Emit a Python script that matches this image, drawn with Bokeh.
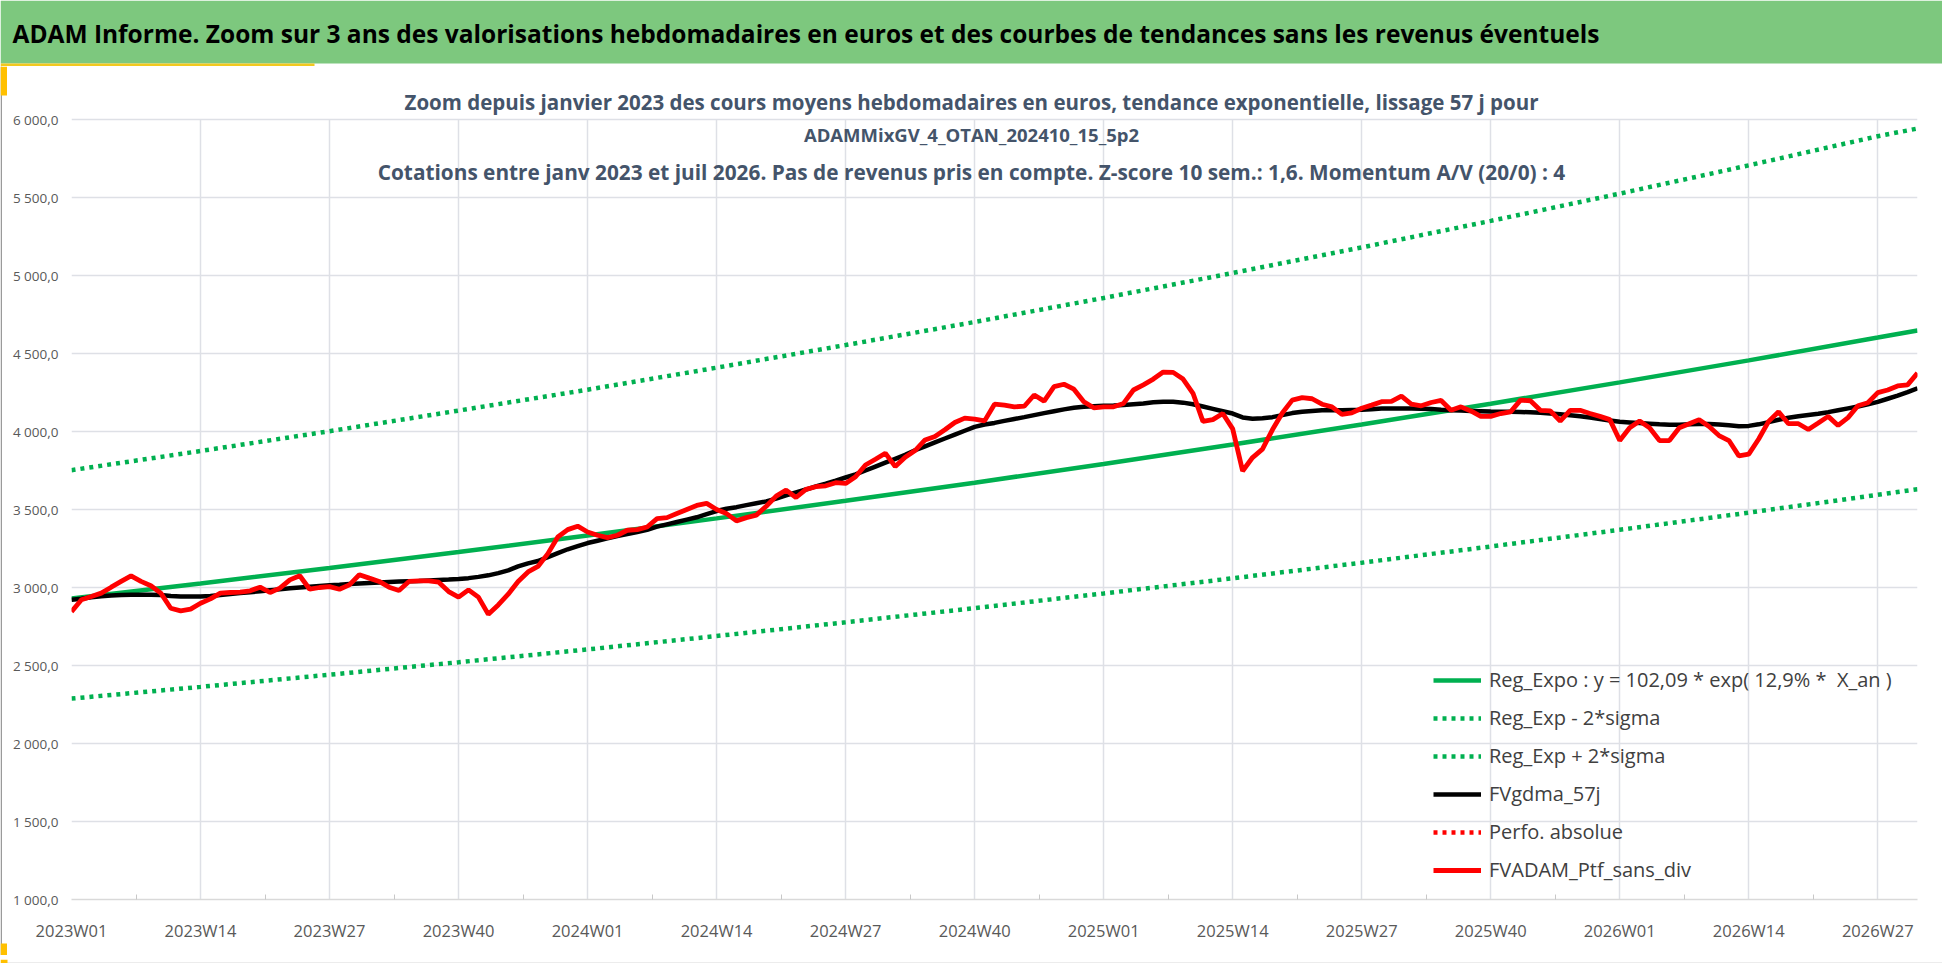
from bokeh.plotting import figure
from bokeh.layouts import column, row
from bokeh.models import Range1d, FixedTicker, Legend, LegendItem, Label
from bokeh.core.properties import value
from bokeh.embed import file_html
from bokeh.resources import INLINE

# weekly categories, 2023W01 .. 2026W31
weeks = ([f"{y}W{w:02d}" for y in (2023, 2024, 2025) for w in range(1, 53)]
         + [f"2026W{w:02d}" for w in range(1, 32)])

x_tick_labels = ["2023W01", "2023W14", "2023W27", "2023W40",
                 "2024W01", "2024W14", "2024W27", "2024W40",
                 "2025W01", "2025W14", "2025W27", "2025W40",
                 "2026W01", "2026W14", "2026W27"]
y_ticks = [1000, 1500, 2000, 2500, 3000, 3500, 4000, 4500, 5000, 5500, 6000]
y_tick_labels = ["1 000,0", "1 500,0", "2 000,0", "2 500,0", "3 000,0", "3 500,0",
                 "4 000,0", "4 500,0", "5 000,0", "5 500,0", "6 000,0"]

# FVADAM_Ptf_sans_div (red)
fvadam = [
    2845, 2921, 2942, 2964, 3002, 3039, 3075, 3039, 3011, 2964,
    2867, 2850, 2861, 2899, 2927, 2964, 2968, 2970, 2979, 3002,
    2968, 2996, 3049, 3075, 2989, 3000, 3006, 2989, 3017, 3082,
    3060, 3039, 3002, 2981, 3039, 3043, 3043, 3034, 2974, 2938,
    2985, 2938, 2828, 2888, 2957, 3039, 3100, 3135, 3217, 3324,
    3371, 3393, 3356, 3335, 3320, 3335, 3367, 3371, 3388, 3442,
    3448, 3474, 3500, 3526, 3539, 3500, 3474, 3427, 3448, 3464,
    3521, 3586, 3624, 3577, 3629, 3646, 3652, 3672, 3667, 3710,
    3785, 3822, 3861, 3775, 3835, 3878, 3946, 3968, 4011, 4058,
    4086, 4080, 4068, 4175, 4169, 4158, 4162, 4234, 4195, 4288,
    4303, 4271, 4191, 4152, 4158, 4158, 4180, 4266, 4299, 4336,
    4381, 4379, 4336, 4245, 4065, 4076, 4115, 4017, 3747, 3833,
    3887, 4011, 4119, 4201, 4217, 4210, 4175, 4158, 4110, 4119,
    4149, 4169, 4191, 4193, 4227, 4175, 4165, 4186, 4199, 4136,
    4158, 4132, 4097, 4097, 4115, 4126, 4201, 4197, 4136, 4132,
    4067, 4136, 4136, 4115, 4097, 4076, 3942, 4024, 4067, 4024,
    3942, 3942, 4024, 4050, 4076, 4032, 3974, 3942, 3844, 3855,
    3952, 4065, 4126, 4050, 4050, 4013, 4054, 4097, 4039, 4089,
    4165, 4184, 4249, 4266, 4292, 4299, 4375,
]

# FVgdma_57j (black, smoothed)
fvgdma = [
    2921, 2928, 2938, 2944, 2948, 2952, 2953, 2953, 2953, 2952,
    2945, 2942, 2942, 2943, 2946, 2952, 2958, 2964, 2970, 2976,
    2982, 2988, 2995, 3000, 3005, 3010, 3015, 3018, 3022, 3026,
    3029, 3032, 3035, 3038, 3040, 3042, 3045, 3048, 3051, 3055,
    3060, 3068, 3078, 3092, 3110, 3135, 3155, 3170, 3195, 3220,
    3245, 3265, 3285, 3300, 3315, 3330, 3342, 3356, 3370, 3390,
    3405, 3420, 3435, 3450, 3470, 3490, 3505, 3515, 3528, 3540,
    3552, 3570, 3590, 3610, 3628, 3648, 3666, 3685, 3705, 3725,
    3750, 3775, 3800, 3825, 3850, 3880, 3905, 3930, 3955, 3980,
    4005, 4030, 4045, 4055, 4068, 4080, 4092, 4105, 4118, 4130,
    4142, 4152, 4158, 4162, 4165, 4167, 4170, 4175, 4180, 4187,
    4191, 4190, 4185, 4175, 4160, 4145, 4130, 4115, 4090, 4082,
    4085, 4092, 4105, 4118, 4126, 4132, 4136, 4136, 4136, 4138,
    4140, 4143, 4147, 4148, 4148, 4147, 4146, 4145, 4140, 4136,
    4134, 4132, 4130, 4128, 4127, 4126, 4125, 4123, 4120, 4115,
    4110, 4104, 4098, 4090, 4080, 4070, 4062, 4058, 4054, 4050,
    4046, 4044, 4044, 4046, 4048, 4048, 4045, 4040, 4034, 4036,
    4046, 4060, 4075, 4088, 4098, 4106, 4114, 4124, 4136, 4148,
    4160, 4174, 4190, 4210, 4230, 4252, 4277,
]

# trend curves read at the labelled weeks and the last week
trend_weeks = x_tick_labels + ["2026W31"]
reg_expo = [2930, 3026, 3125, 3228, 3333, 3443, 3556, 3672, 3792, 3917,
            4045, 4178, 4315, 4456, 4602, 4648]
reg_minus = [2288, 2363, 2441, 2521, 2603, 2689, 2777, 2868, 2962, 3059,
             3159, 3263, 3370, 3480, 3594, 3630]
reg_plus = [3752, 3875, 4002, 4134, 4268, 4409, 4554, 4702, 4856, 5016,
            5180, 5350, 5525, 5706, 5893, 5942]

header = ("ADAM Informe. Zoom sur 3 ans des valorisations hebdomadaires en euros "
          "et des courbes de tendances sans les revenus éventuels")
subtitle = [
    "Zoom depuis janvier 2023 des cours moyens hebdomadaires en euros, "
    "tendance exponentielle, lissage 57 j pour",
    "ADAMMixGV_4_OTAN_202410_15_5p2",
    "Cotations entre janv 2023 et juil 2026. Pas de revenus pris en compte. "
    "Z-score 10 sem.: 1,6. Momentum A/V (20/0) : 4",
]

FONT = "Open Sans"
W = 1942
SIDE_W = 7                 # thin decorative strip on the left of the chart
HEAD_H, FOOT_H, MAIN_H = 66, 8, 889
FRAME_BOTTOM = 56          # px below the frame
PX_PER_UNIT = 780 / 5000   # 1000..6000 spans 780 px
TOP_GAP = 53               # px between frame top and the 6000 gridline
ORANGE = "#FFC000"


def strip(width, height):
    f = figure(width=width, height=height, output_backend="svg", toolbar_location=None,
               x_range=Range1d(0, width), y_range=Range1d(height, 0),
               x_axis_location=None, y_axis_location=None, min_border=0)
    f.frame_align = False
    f.grid.visible = False
    f.outline_line_color = None
    f.background_fill_color = "white"
    f.border_fill_color = "white"
    return f


# ---- header strip ----
head = strip(W, HEAD_H)
head.quad(left=0, right=W, top=0, bottom=63, color="#7DC87E", line_color=None)
head.quad(left=0, right=314, top=63, bottom=66, color="#F2C81E", line_color=None)
head.text(x=[12], y=[33], text=[header], text_font=value(FONT),
          text_font_style="bold", text_font_size="24.5px", text_color="black",
          text_baseline="middle", text_align="left")

# ---- left decoration strip ----
side = strip(SIDE_W, MAIN_H)
side.quad(left=0, right=1.5, top=0, bottom=MAIN_H, color="#9A9A9A", line_color=None)
side.quad(left=0, right=SIDE_W, top=0, bottom=29, color=ORANGE, line_color=None)
side.quad(left=0, right=SIDE_W, top=MAIN_H - 12, bottom=MAIN_H, color=ORANGE,
          line_color=None)

# ---- main chart ----
idx = list(range(len(weeks)))
tick_idx = [weeks.index(w) for w in x_tick_labels]
trend_idx = [weeks.index(w) for w in trend_weeks]
minor_idx = [t + 6.5 for t in tick_idx]

frame_h = MAIN_H - FRAME_BOTTOM
y_top = 1000 + frame_h / PX_PER_UNIT

p = figure(width=W - SIDE_W, height=MAIN_H, output_backend="svg", toolbar_location=None,
           x_range=Range1d(0, len(weeks) - 1), y_range=Range1d(1000, y_top),
           min_border_left=71 - SIDE_W, min_border_right=25, min_border_top=0,
           min_border_bottom=FRAME_BOTTOM)
p.frame_align = False
p.outline_line_color = None
p.background_fill_color = "white"
p.border_fill_color = "white"

p.xaxis.ticker = FixedTicker(ticks=tick_idx, minor_ticks=minor_idx)
p.xaxis.major_label_overrides = {t: lab for t, lab in zip(tick_idx, x_tick_labels)}
p.xaxis.major_tick_line_color = None
p.xaxis.minor_tick_line_color = "#C8C8C8"
p.xaxis.minor_tick_in = 5
p.xaxis.minor_tick_out = 0
p.xaxis.axis_line_color = "#D9D9D9"
p.xaxis.axis_line_width = 1.5
p.xaxis.major_label_standoff = 13
p.xaxis.major_label_text_font = FONT
p.xaxis.major_label_text_font_size = "16.5px"
p.xaxis.major_label_text_color = "#595959"

p.yaxis.ticker = FixedTicker(ticks=y_ticks, minor_ticks=[])
p.yaxis.major_label_overrides = {t: lab for t, lab in zip(y_ticks, y_tick_labels)}
p.yaxis.axis_line_color = None
p.yaxis.major_tick_line_color = None
p.yaxis.minor_tick_line_color = None
p.yaxis.major_label_standoff = 7
p.yaxis.major_label_text_font = FONT
p.yaxis.major_label_text_font_size = "13.5px"
p.yaxis.major_label_text_color = "#595959"

p.xgrid.grid_line_color = "#DEE0E6"
p.ygrid.grid_line_color = "#DEE0E6"
p.xgrid.grid_line_width = 1.5
p.ygrid.grid_line_width = 1.5
p.xgrid.cross_bounds = (y_ticks[0], y_ticks[-1])

green = "#00B050"
r_minus = p.line(trend_idx, reg_minus, color=green, line_width=4.5, line_dash="4 5")
r_plus = p.line(trend_idx, reg_plus, color=green, line_width=4.5, line_dash="4 5")
r_expo = p.line(trend_idx, reg_expo, color=green, line_width=4.5)
r_gdma = p.line(idx, fvgdma, color="black", line_width=4.5)
r_perf = p.line(x=[0], y=[float("nan")], color="#FF0000", line_width=4.5, line_dash="4 5")
r_adam = p.line(idx, fvadam, color="#FF0000", line_width=4.8)

legend = Legend(items=[
    LegendItem(label="Reg_Expo : y = 102,09 * exp( 12,9% *  X_an )", renderers=[r_expo]),
    LegendItem(label="Reg_Exp - 2*sigma", renderers=[r_minus]),
    LegendItem(label="Reg_Exp + 2*sigma", renderers=[r_plus]),
    LegendItem(label="FVgdma_57j", renderers=[r_gdma]),
    LegendItem(label="Perfo. absolue", renderers=[r_perf]),
    LegendItem(label="FVADAM_Ptf_sans_div", renderers=[r_adam]),
], location=(1358, 12))
legend.background_fill_alpha = 0
legend.border_line_alpha = 0
legend.label_text_font = FONT
legend.label_text_font_size = "20px"
legend.label_text_color = "#404040"
legend.glyph_width = 48
legend.glyph_height = 20
legend.label_height = 20
legend.label_standoff = 8
legend.spacing = 11
legend.padding = 4
legend.margin = 0
p.add_layout(legend, "center")

sub_sizes = ["20.5px", "18.5px", "20.8px"]
for txt, yy, fs in zip(subtitle, [35, 68, 105], sub_sizes):
    p.add_layout(Label(x=971 - SIDE_W, y=yy, x_units="canvas", y_units="canvas", text=txt,
                       text_font=FONT, text_font_style="bold", text_font_size=fs,
                       text_color="#44546A", text_baseline="middle", text_align="center"))

# ---- footer strip ----
foot = strip(W, FOOT_H)
foot.quad(left=0, right=W, top=3, bottom=5, color="#DADADA", line_color=None)
foot.quad(left=0, right=314, top=5, bottom=8, color=ORANGE, line_color=None)
foot.quad(left=0, right=SIDE_W, top=0, bottom=8, color=ORANGE, line_color=None)

layout = column(head, row(side, p, spacing=0), foot, spacing=0)
open("out.html", "w").write(file_html(layout, INLINE))
